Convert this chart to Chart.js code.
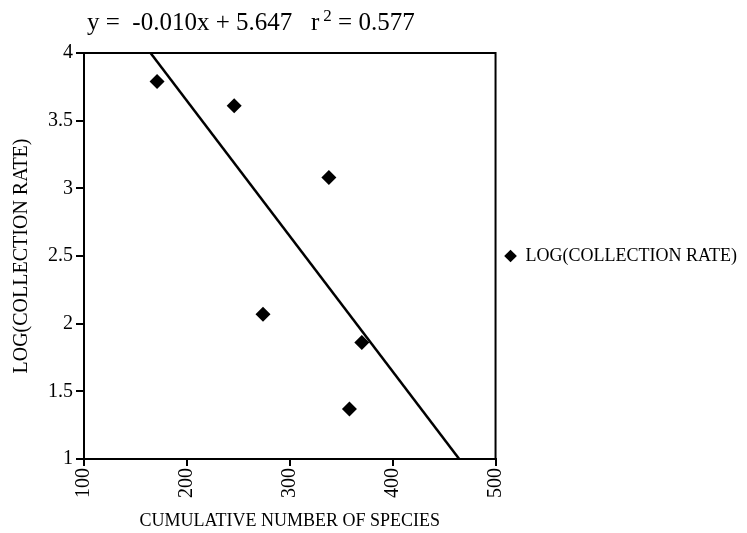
<!DOCTYPE html>
<html>
<head>
<meta charset="utf-8">
<script src="https://cdn.jsdelivr.net/npm/chart.js@4/dist/chart.umd.min.js"></script>
<style>
  html, body { margin: 0; padding: 0; background: #fff; }
  #wrap { width: 747px; height: 533px; }
</style>
</head>
<body>
<div id="wrap"><canvas id="chart" width="747" height="533"></canvas></div>
<script>
// data
const species = [171, 246, 338, 274, 370, 358];
const logRate = [3.79, 3.61, 3.08, 2.07, 1.86, 1.37];
const xTicks = [100, 200, 300, 400, 500];
const yTicks = [1, 1.5, 2, 2.5, 3, 3.5, 4];
const slope = -0.010;
const intercept = 5.647;
const rSquared = 0.577;

const serif = "'Liberation Serif', 'Times New Roman', serif";

// fit line end points come from the equation, clipped to the y range
const fitLine = [4, 1].map(y => ({ x: (y - intercept) / slope, y: y }));

const framePlugin = {
  id: "frame",
  afterDraw(chart) {
    const { ctx, chartArea: a } = chart;
    ctx.save();
    ctx.strokeStyle = "#000";
    ctx.lineWidth = 2;
    ctx.strokeRect(a.left, a.top, a.right - a.left, a.bottom - a.top);

    // equation title with a raised 2
    ctx.fillStyle = "#000";
    ctx.textBaseline = "alphabetic";
    let x = 87;
    const base = 30;
    const parts = [
      { t: "y =  " + slope.toFixed(3) + "x + " + intercept.toFixed(3) + "   r", size: 25, dy: 0, gap: 4 },
      { t: "2", size: 17, dy: -9, gap: 0 },
      { t: " = " + rSquared.toFixed(3), size: 25, dy: 0, gap: 0 }
    ];
    parts.forEach(p => {
      ctx.font = p.size + "px " + serif;
      ctx.fillText(p.t, x, base + p.dy);
      x += ctx.measureText(p.t).width + p.gap;
    });
    ctx.restore();
  }
};

new Chart(document.getElementById("chart"), {
  type: "scatter",
  data: {
    datasets: [
      {
        label: "LOG(COLLECTION RATE)",
        data: species.map((s, i) => ({ x: s, y: logRate[i] })),
        pointStyle: "rectRot",
        pointRadius: 7.5,
        backgroundColor: "#000",
        borderColor: "#000",
        borderWidth: 0
      },
      {
        label: "fit",
        type: "line",
        data: fitLine,
        borderColor: "#000",
        borderWidth: 2.5,
        pointRadius: 0,
        fill: false
      }
    ]
  },
  options: {
    responsive: false,
    animation: false,
    layout: { padding: { top: 53, left: 0, right: 0, bottom: 0 } },
    plugins: {
      title: { display: false },
      tooltip: { enabled: false },
      legend: {
        position: "right",
        fullSize: false,
        maxWidth: 254,
        labels: {
          filter: item => item.datasetIndex === 0,
          usePointStyle: true,
          boxWidth: 12,
          boxHeight: 9,
          padding: 9,
          color: "#000",
          font: { family: serif, size: 18 }
        }
      }
    },
    scales: {
      x: {
        type: "linear",
        min: 100,
        max: 500,
        afterBuildTicks: s => { s.ticks = xTicks.map(v => ({ value: v })); },
        afterFit: s => { s.height = 74; s.paddingLeft = 0; s.paddingRight = 0; },
        ticks: {
          minRotation: 90,
          maxRotation: 90,
          padding: 2,
          color: "#000",
          font: { family: serif, size: 20 },
          callback: v => String(v)
        },
        grid: { drawOnChartArea: false, color: "#000", lineWidth: 2, tickLength: 7 },
        border: { color: "#000", width: 2 },
        title: {
          display: true,
          text: "CUMULATIVE NUMBER OF SPECIES",
          color: "#000",
          font: { family: serif, size: 18 },
          padding: { top: 0, bottom: 1 }
        }
      },
      y: {
        min: 1,
        max: 4,
        afterBuildTicks: s => { s.ticks = yTicks.map(v => ({ value: v })); },
        afterFit: s => { s.width = 84; s.paddingTop = 0; s.paddingBottom = 0; },
        ticks: {
          padding: 3,
          color: "#000",
          font: { family: serif, size: 20 },
          callback: v => String(v)
        },
        grid: { drawOnChartArea: false, color: "#000", lineWidth: 2, tickLength: 8 },
        border: { color: "#000", width: 2 },
        title: {
          display: true,
          text: "LOG(COLLECTION RATE)",
          color: "#000",
          font: { family: serif, size: 20 },
          padding: { top: 10, bottom: 0 }
        }
      }
    }
  },
  plugins: [framePlugin]
});
</script>
</body>
</html>
